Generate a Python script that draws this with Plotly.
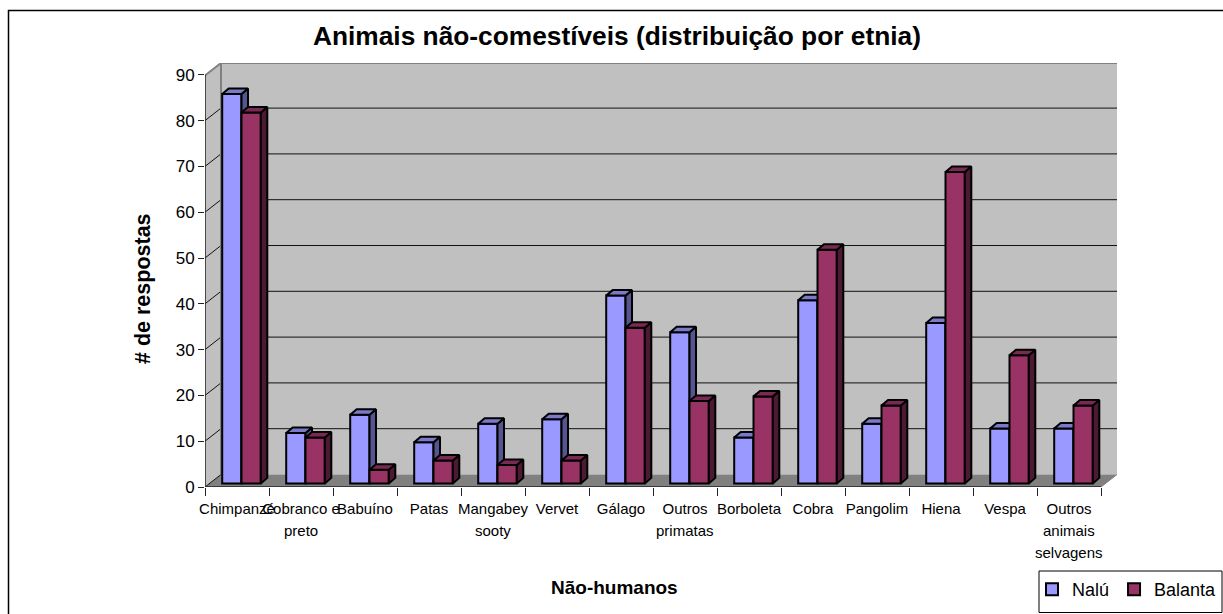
import plotly.graph_objects as go

categories = ["Chimpanzé", "Cobranco e<br>preto", "Babuíno", "Patas", "Mangabey<br>sooty", "Vervet", "Gálago",
              "Outros<br>primatas", "Borboleta", "Cobra", "Pangolim", "Hiena", "Vespa", "Outros<br>animais<br>selvagens"]
nalu = [85, 11, 15, 9, 13, 14, 41, 33, 10, 40, 13, 35, 12, 12]
balanta = [81, 10, 3, 5, 4, 5, 34, 18, 19, 51, 17, 68, 28, 17]
y_ticks = list(range(0, 100, 10))

W, H = 1223, 614
L, R, T, B = 205, 1118, 63, 487
PX_X = 64.0
PX_Y = 4.58
XMIN = -0.5
XMAX = XMIN + (R - L) / PX_X
YMAX = (B - T) / PX_Y
WALL_DX = 16 / PX_X
WALL_DY = 12.5 / PX_Y
BAR_W = 19.3 / PX_X
BAR_SHIFT = 4.5 / PX_X
BAR_BASE = 3.6 / PX_Y
DEPTH_X = 6.5 / PX_X
DEPTH_Y = 5.5 / PX_Y
XEND = XMIN + len(categories)


def px(x):
    return (x - L) / (R - L)


def py(y):
    return (B - y) / (B - T)


def faces(vals, offset):
    tx, ty, sx, sy = [], [], [], []
    for i, v in enumerate(vals):
        x0 = i + BAR_SHIFT + offset
        x1 = x0 + BAR_W
        top = v + BAR_BASE
        tx += [x0, x0 + DEPTH_X, x1 + DEPTH_X, x1, x0, None]
        ty += [top, top + DEPTH_Y, top + DEPTH_Y, top, top, None]
        sx += [x1, x1 + DEPTH_X, x1 + DEPTH_X, x1, x1, None]
        sy += [BAR_BASE, BAR_BASE + DEPTH_Y, top + DEPTH_Y, top, BAR_BASE, None]
    return tx, ty, sx, sy


def series(name, vals, offset, color, topc, sidec, xa, ya):
    xs = [i + BAR_SHIFT + offset + BAR_W / 2 for i in range(len(vals))]
    tx, ty, sx, sy = faces(vals, offset)
    line = dict(color="black", width=2)
    return [
        go.Bar(name=name, x=xs, y=vals, base=BAR_BASE, width=BAR_W, xaxis=xa, yaxis=ya,
               marker=dict(color=color, line=dict(color="black", width=2))),
        go.Scatter(x=sx, y=sy, mode="lines", fill="toself", fillcolor=sidec, line=line,
                   xaxis=xa, yaxis=ya, showlegend=False, hoverinfo="skip"),
        go.Scatter(x=tx, y=ty, mode="lines", fill="toself", fillcolor=topc, line=line,
                   xaxis=xa, yaxis=ya, showlegend=False, hoverinfo="skip"),
    ]


fig = go.Figure()
for tr in series("Nalú", nalu, -BAR_W, "#9999FF", "#7A7ACC", "#55558F", "x", "y"):
    fig.add_trace(tr)
for tr in series("Balanta", balanta, 0, "#993366", "#7A2952", "#4C1A33", "x2", "y2"):
    fig.add_trace(tr)

shapes = []
shapes.append(dict(type="rect", xref="paper", yref="paper", x0=px(8.5), x1=px(W + 4), y0=py(H + 4), y1=py(10.5),
                   line=dict(color="black", width=1.5), layer="below"))
wall = XMIN + WALL_DX
back_r = XEND + WALL_DX
shapes += [
    dict(type="rect", xref="x", yref="y", x0=wall, x1=back_r, y0=WALL_DY, y1=YMAX, fillcolor="#C0C0C0",
         line=dict(width=0), layer="below"),
    dict(type="path", xref="x", yref="y", layer="below", fillcolor="#C0C0C0", line=dict(width=0),
         path=f"M {XMIN} 0 L {wall} {WALL_DY} L {wall} {YMAX} L {XMIN} {YMAX - WALL_DY} Z"),
    dict(type="path", xref="x", yref="y", layer="below", fillcolor="#808080", line=dict(width=0),
         path=f"M {XMIN} 0 L {wall} {WALL_DY} L {back_r} {WALL_DY} L {XEND} 0 Z"),
]
for v in y_ticks[1:-1]:
    shapes.append(dict(type="line", xref="x", yref="y", x0=wall, x1=back_r, y0=v + WALL_DY, y1=v + WALL_DY,
                       line=dict(color="#111111", width=1), layer="below"))
for v in y_ticks[:-1]:
    shapes.append(dict(type="line", xref="x", yref="y", x0=XMIN, x1=wall, y0=v, y1=v + WALL_DY,
                       line=dict(color="#111111", width=1), layer="below"))
shapes.append(dict(type="path", xref="x", yref="y", layer="below", line=dict(color="#808080", width=2),
                   path=f"M {XMIN} {YMAX - WALL_DY} L {wall} {YMAX} L {back_r} {YMAX} M {wall} {YMAX} L {wall} {WALL_DY}"))
shapes.append(dict(type="path", xref="x", yref="y", layer="below", line=dict(color="#808080", width=1),
                   path=f"M {XEND} 0 L {back_r} {WALL_DY}"))
shapes.append(dict(type="path", xref="x", yref="y", layer="below", line=dict(color="#222222", width=1.5),
                   path=f"M {XMIN} {y_ticks[-1]} L {XMIN} 0 L {XEND} 0"))
shapes.append(dict(type="rect", xref="paper", yref="paper", x0=px(1039), x1=px(1222), y0=py(612.5), y1=py(571),
                   line=dict(color="black", width=1), fillcolor="white", layer="below"))

annotations = [
    dict(text="<b>Animais não-comestíveis (distribuição por etnia)</b>", xref="paper", yref="paper", x=px(617), y=py(36),
         showarrow=False, font=dict(family="Liberation Sans", size=26.3, color="black"), xanchor="center", yanchor="middle"),
    dict(text="<b># de respostas</b>", xref="paper", yref="paper", x=px(143), y=py(289), textangle=-90,
         showarrow=False, font=dict(family="Liberation Sans", size=21.5, color="black"), xanchor="center", yanchor="middle"),
    dict(text="<b>Não-humanos</b>", xref="paper", yref="paper", x=px(614), y=py(587),
         showarrow=False, font=dict(family="Liberation Sans", size=19, color="black"), xanchor="center", yanchor="middle"),
]

first_lines = []
for i, c in enumerate(categories):
    parts = c.split("<br>")
    first_lines.append(parts[0])
    for j, p in enumerate(parts[1:], start=1):
        annotations.append(dict(text=p, xref="x", yref="paper", x=i, y=py(508 + j * 22.3), showarrow=False,
                                font=dict(family="Liberation Sans", size=15, color="black"),
                                xanchor="center", yanchor="middle"))

xaxis = dict(domain=[0, 1], range=[XMIN, XMAX], tickmode="array", tickvals=list(range(len(categories))),
             ticktext=first_lines, ticks="", ticklen=0, showgrid=False, zeroline=False, showline=False, tickangle=0,
             ticklabelstandoff=11, tickfont=dict(family="Liberation Sans", size=15, color="black"),
             minor=dict(ticks="outside", tick0=XMIN, dtick=1, ticklen=8, tickwidth=1.2, tickcolor="#222222", showgrid=False))
yaxis = dict(domain=[0, 1], range=[0, YMAX], tickmode="array", tickvals=y_ticks, ticks="outside", ticklen=6,
             tickcolor="#222222", tickwidth=1.2, showgrid=False, zeroline=False, showline=False,
             tickfont=dict(family="Liberation Sans", size=17, color="black"))

fig.update_layout(
    width=W, height=H, margin=dict(l=L, r=W - R, t=T, b=H - B, pad=0), autosize=False,
    paper_bgcolor="white", plot_bgcolor="white", showlegend=True, barmode="overlay",
    xaxis=xaxis, yaxis=yaxis,
    xaxis2=dict(overlaying="x", range=[XMIN, XMAX], visible=False),
    yaxis2=dict(overlaying="y", range=[0, YMAX], visible=False),
    legend=dict(orientation="h", xref="container", yref="container", x=1222 / W, y=1 - 571 / H, xanchor="right",
                yanchor="top", borderwidth=0, bgcolor="rgba(0,0,0,0)",
                font=dict(family="Liberation Sans", size=18, color="black")),
    shapes=shapes, annotations=annotations,
)

fig.write_html("out.html", config={"displayModeBar": False},
               post_script="document.body.style.margin='0';document.body.style.overflow='hidden';")
